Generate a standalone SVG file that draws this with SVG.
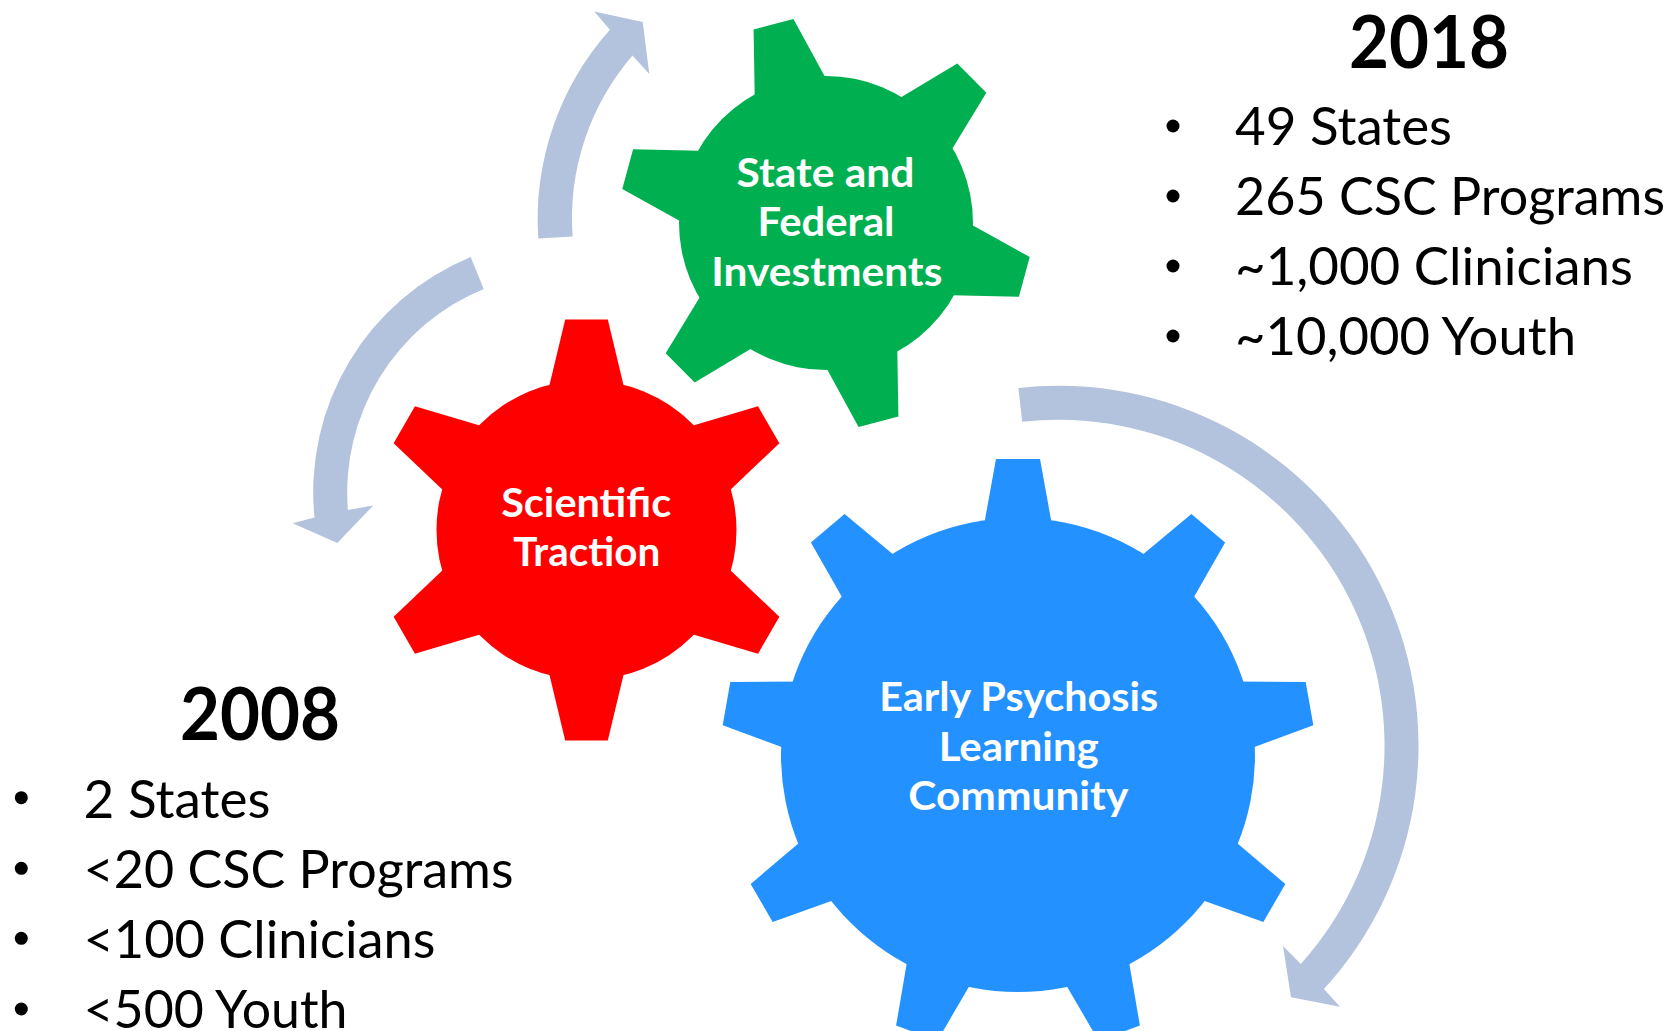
<svg xmlns="http://www.w3.org/2000/svg" xmlns:xlink="http://www.w3.org/1999/xlink" width="1672" height="1031" viewBox="0 0 1672 1031">
  <style>
    .lbl { font-family: Lato, "Open Sans", sans-serif; font-weight: 700; font-size: 40px; fill: #ffffff; text-anchor: middle; }
    .yr { font-family: Lato, "Open Sans", sans-serif; font-weight: 700; font-size: 72px; fill: #000000; text-anchor: middle; }
    .item { font-family: Lato, "Open Sans", sans-serif; font-weight: 400; font-size: 52px; fill: #000000; }
    .dot { fill: #000000; }
    .arrow { fill: #b3c3dd; stroke: none; }
    .green { fill: #00b050; }
    .red { fill: #ff0000; }
    .blue { fill: #2391ff; }
  </style>
  <defs>
    <!-- gear teeth, drawn pointing up from the gear centre -->
    <polygon id="tooth-green" points="-39.2,-130 -20.6,-205.5 20.6,-205.5 39.2,-130"/>
    <polygon id="tooth-red" points="-40.6,-130 -21.3,-210.4 21.3,-210.4 40.6,-130"/>
    <polygon id="tooth-blue" points="-36.7,-215 -22,-296 22,-296 36.7,-215"/>
  </defs>

  <rect width="1672" height="1031" fill="#ffffff"/>

  <!-- curved cycle arrows -->
  <g id="connectors">
    <path class="arrow" d="M 538.3,238.6 A 285 285 0 0 1 609.9,29.7 L 594.3,11.4 L 642.7,22.1 L 649.3,73.9 L 632.5,55.5 A 250 250 0 0 0 572.6,236.6 Z"/>
    <path class="arrow" d="M 470.7,257.1 A 254 254 0 0 0 314.5,517.6 L 292.7,523.2 L 337.3,542.9 L 373.3,505.4 L 347.9,510 A 220 220 0 0 1 483.7,288.9 Z"/>
    <path class="arrow" d="M 1018.4,388 A 360 360 0 0 1 1323.9,989 L 1340,1006.7 L 1291,997.3 L 1283,946 L 1300.8,963.9 A 326 326 0 0 0 1022.2,421.8 Z"/>
  </g>

  <!-- six-tooth green gear -->
  <g id="gear-investments">
    <g class="green" transform="translate(826,223)">
      <circle r="147"/>
      <use xlink:href="#tooth-green" href="#tooth-green" transform="rotate(-14.8)"/>
      <use xlink:href="#tooth-green" href="#tooth-green" transform="rotate(45.2)"/>
      <use xlink:href="#tooth-green" href="#tooth-green" transform="rotate(105.2)"/>
      <use xlink:href="#tooth-green" href="#tooth-green" transform="rotate(165.2)"/>
      <use xlink:href="#tooth-green" href="#tooth-green" transform="rotate(225.2)"/>
      <use xlink:href="#tooth-green" href="#tooth-green" transform="rotate(285.2)"/>
    </g>
    <text class="lbl" x="825.5" y="186.7" textLength="178" lengthAdjust="spacingAndGlyphs">State and</text>
    <text class="lbl" x="826" y="236" textLength="137" lengthAdjust="spacingAndGlyphs">Federal</text>
    <text class="lbl" x="826.8" y="286" textLength="231" lengthAdjust="spacingAndGlyphs">Investments</text>
  </g>

  <!-- six-tooth red gear -->
  <g id="gear-traction">
    <g class="red" transform="translate(586.5,530)">
      <circle r="150"/>
      <use xlink:href="#tooth-red" href="#tooth-red"/>
      <use xlink:href="#tooth-red" href="#tooth-red" transform="rotate(60)"/>
      <use xlink:href="#tooth-red" href="#tooth-red" transform="rotate(120)"/>
      <use xlink:href="#tooth-red" href="#tooth-red" transform="rotate(180)"/>
      <use xlink:href="#tooth-red" href="#tooth-red" transform="rotate(240)"/>
      <use xlink:href="#tooth-red" href="#tooth-red" transform="rotate(300)"/>
    </g>
    <text class="lbl" x="586.2" y="517.3" textLength="170" lengthAdjust="spacingAndGlyphs">Scientific</text>
    <text class="lbl" x="586.7" y="566" textLength="147" lengthAdjust="spacingAndGlyphs">Traction</text>
  </g>

  <!-- nine-tooth blue gear -->
  <g id="gear-community">
    <g class="blue" transform="translate(1018,755)">
      <circle r="237"/>
      <use xlink:href="#tooth-blue" href="#tooth-blue"/>
      <use xlink:href="#tooth-blue" href="#tooth-blue" transform="rotate(40)"/>
      <use xlink:href="#tooth-blue" href="#tooth-blue" transform="rotate(80)"/>
      <use xlink:href="#tooth-blue" href="#tooth-blue" transform="rotate(120)"/>
      <use xlink:href="#tooth-blue" href="#tooth-blue" transform="rotate(160)"/>
      <use xlink:href="#tooth-blue" href="#tooth-blue" transform="rotate(200)"/>
      <use xlink:href="#tooth-blue" href="#tooth-blue" transform="rotate(240)"/>
      <use xlink:href="#tooth-blue" href="#tooth-blue" transform="rotate(280)"/>
      <use xlink:href="#tooth-blue" href="#tooth-blue" transform="rotate(320)"/>
    </g>
    <text class="lbl" x="1018.7" y="711.2" textLength="279" lengthAdjust="spacingAndGlyphs">Early Psychosis</text>
    <text class="lbl" x="1018.7" y="760.5" textLength="160" lengthAdjust="spacingAndGlyphs">Learning</text>
    <text class="lbl" x="1018.3" y="810.1" textLength="220" lengthAdjust="spacingAndGlyphs">Community</text>
  </g>

  <!-- 2018 figures -->
  <g id="stats-2018">
    <text class="yr" x="1429" y="68.3" textLength="160" lengthAdjust="spacingAndGlyphs">2018</text>
    <circle class="dot" cx="1173" cy="126" r="6.5"/>
    <circle class="dot" cx="1173" cy="196" r="6.5"/>
    <circle class="dot" cx="1173" cy="266" r="6.5"/>
    <circle class="dot" cx="1173" cy="336" r="6.5"/>
    <text class="item" x="1235" y="145" textLength="217" lengthAdjust="spacingAndGlyphs">49 States</text>
    <text class="item" x="1235" y="215" textLength="430" lengthAdjust="spacingAndGlyphs">265 CSC Programs</text>
    <text class="item" x="1235" y="285" textLength="398" lengthAdjust="spacingAndGlyphs">~1,000 Clinicians</text>
    <text class="item" x="1235" y="355" textLength="341" lengthAdjust="spacingAndGlyphs">~10,000 Youth</text>
  </g>

  <!-- 2008 figures -->
  <g id="stats-2008">
    <text class="yr" x="260" y="740" textLength="160" lengthAdjust="spacingAndGlyphs">2008</text>
    <circle class="dot" cx="21.3" cy="797.7" r="6.5"/>
    <circle class="dot" cx="21.3" cy="868.3" r="6.5"/>
    <circle class="dot" cx="21.3" cy="938.3" r="6.5"/>
    <circle class="dot" cx="21.3" cy="1009" r="6.5"/>
    <text class="item" x="83.5" y="817.7" textLength="187" lengthAdjust="spacingAndGlyphs">2 States</text>
    <text class="item" x="83.5" y="888.3" textLength="430" lengthAdjust="spacingAndGlyphs">&lt;20 CSC Programs</text>
    <text class="item" x="83.5" y="958.3" textLength="352" lengthAdjust="spacingAndGlyphs">&lt;100 Clinicians</text>
    <text class="item" x="83.5" y="1028.3" textLength="264" lengthAdjust="spacingAndGlyphs">&lt;500 Youth</text>
  </g>
</svg>
